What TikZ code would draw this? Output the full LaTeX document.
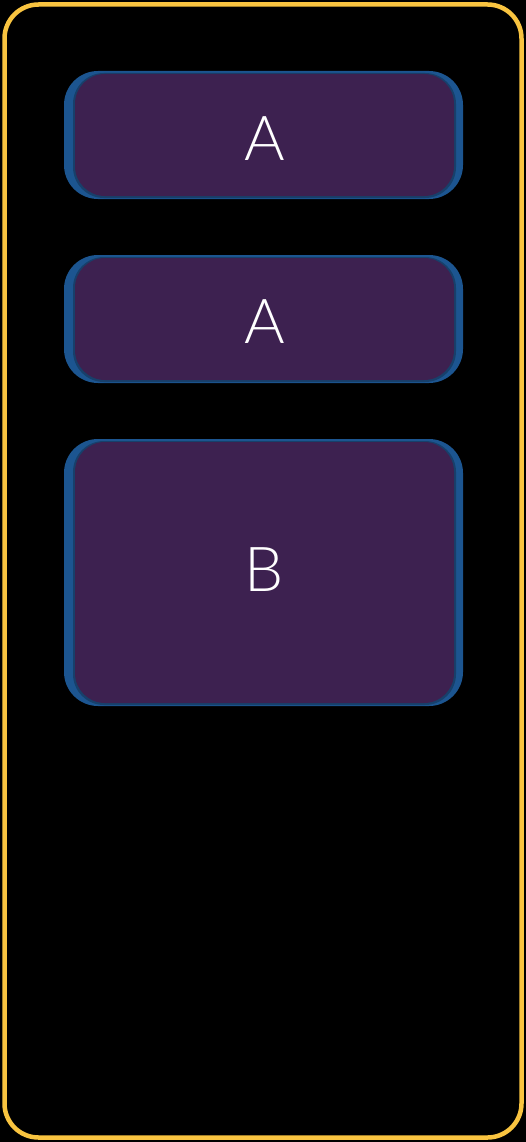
\documentclass[tikz,border=0pt]{standalone}
\usepackage{fontspec}
\setmainfont{Lato}[UprightFont={* Light}]
\definecolor{frameyellow}{HTML}{F9C440}
\definecolor{boxblue}{HTML}{1C5590}
\definecolor{boxblueedge}{HTML}{17406B}
\definecolor{boxpurple}{HTML}{3D2150}
\begin{document}
\begin{tikzpicture}[x=1pt,y=-1pt,
  outerbox/.style={draw=frameyellow,line width=4.5pt,fill=black,rounded corners=34pt},
  bluebox/.style={fill=boxblue,rounded corners=34pt},
  purplebox/.style={fill=boxpurple,rounded corners=30pt},
  shade/.style={fill=boxblueedge,rounded corners=31pt},
  lbl/.style={text=white,font=\fontsize{62}{62}\selectfont,inner sep=0pt}]
\fill[black] (0,0) rectangle (526,1142);
\useasboundingbox (0,0) rectangle (526,1142);
\draw[outerbox] (4.5,4.5) rectangle (521.5,1137.5);
% box 1
\fill[bluebox] (64,71) rectangle (463,199);
\fill[shade] (73,73) rectangle (456,198);
\fill[purplebox] (75,74) rectangle (454,196);
\node[lbl] (a1) at (264.5,139) {A};
% box 2
\fill[bluebox] (64,255) rectangle (463,383);
\fill[shade] (73,257) rectangle (456,382);
\fill[purplebox] (75,258) rectangle (454,380);
\node[lbl] (a2) at (264.5,322) {A};
% box 3
\fill[bluebox] (64,439) rectangle (463,706);
\fill[shade] (73,441) rectangle (456,705);
\fill[purplebox] (75,442) rectangle (454,703);
\node[lbl] (b) at (264.5,570) {B};
\end{tikzpicture}
\end{document}
